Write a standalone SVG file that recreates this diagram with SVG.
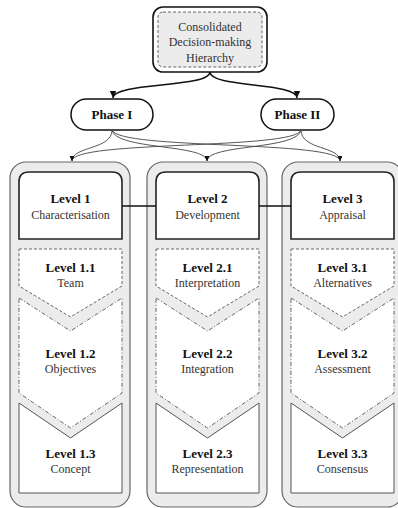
<svg xmlns="http://www.w3.org/2000/svg" width="398" height="508" viewBox="0 0 398 508">
<style>
  .col { fill: #ececec; stroke: #666; stroke-width: 1.2; }
  .lvl { fill: #fff; stroke: #222; stroke-width: 1.6; }
  .s1 { fill: #fff; stroke: #666; stroke-width: 1; stroke-dasharray: 3 2; }
  .s2 { fill: #fff; stroke: #666; stroke-width: 1; stroke-dasharray: 4 2 1 2; }
  .s3 { fill: #fff; stroke: #555; stroke-width: 1; }
  .b { font-family: "Liberation Serif", "Times New Roman", serif; font-weight: bold; font-size: 13px; fill: #111; text-anchor: middle; }
  .t { font-family: "Liberation Serif", "Times New Roman", serif; font-size: 12px; fill: #333; text-anchor: middle; }
  .thin { fill: none; stroke: #444; stroke-width: 0.9; }
  .thick { fill: none; stroke: #111; stroke-width: 1.5; }
  .link { fill: none; stroke: #111; stroke-width: 1.5; }
</style>
<defs>
  <marker id="ah" markerUnits="userSpaceOnUse" markerWidth="8" markerHeight="8" viewBox="0 0 8 8" refX="7" refY="4" orient="auto">
    <path d="M0,0.8 L7,4 L0,7.2 Z" fill="#111"/>
  </marker>
  <marker id="as" markerUnits="userSpaceOnUse" markerWidth="6" markerHeight="6" viewBox="0 0 6 6" refX="5.5" refY="3" orient="auto">
    <path d="M0,0.5 L5.5,3 L0,5.5 Z" fill="#111"/>
  </marker>
</defs>

<g id="top">
  <rect x="153" y="7" width="114" height="65" rx="10" fill="#fff" stroke="#111" stroke-width="1.6"/>
  <rect x="158" y="12" width="104" height="55" rx="5" fill="#ececec" stroke="#666" stroke-width="1" stroke-dasharray="3 2"/>
  <text class="t" x="210" y="31">Consolidated</text>
  <text class="t" x="210" y="46">Decision-making</text>
  <text class="t" x="210" y="62">Hierarchy</text>
</g>

<g id="phase1">
  <rect x="71" y="99" width="82" height="31" rx="15.5" fill="#fff" stroke="#111" stroke-width="1.5"/>
  <text class="b" x="112" y="119">Phase I</text>
</g>
<g id="phase2">
  <rect x="261" y="99" width="73" height="31" rx="15.5" fill="#fff" stroke="#111" stroke-width="1.5"/>
  <text class="b" x="297.5" y="119">Phase II</text>
</g>

<g id="column1">
  <rect class="col" x="10" y="162" width="120" height="345" rx="16"/>
  <g id="level1">
    <path class="lvl" d="M19,239 V182 Q19,172 29,172 H112 Q122,172 122,182 V239 Z"/>
    <text class="b" x="70.5" y="203">Level 1</text>
    <text class="t" x="70.5" y="219">Characterisation</text>
  </g>
  <g id="level1_1">
    <path class="s1" d="M19,249 H122 V286 L70.5,317 L19,286 Z"/>
    <text class="b" x="70.5" y="272">Level 1.1</text>
    <text class="t" x="70.5" y="287">Team</text>
  </g>
  <g id="level1_2">
    <path class="s2" d="M19,298 L70.5,331 L122,298 V393 L70.5,428 L19,393 Z"/>
    <text class="b" x="70.5" y="358">Level 1.2</text>
    <text class="t" x="70.5" y="373">Objectives</text>
  </g>
  <g id="level1_3">
    <path class="s3" d="M19,403 L70.5,438 L122,403 V493 H19 Z"/>
    <text class="b" x="70.5" y="458">Level 1.3</text>
    <text class="t" x="70.5" y="473">Concept</text>
  </g>
</g>

<g id="column2">
  <rect class="col" x="147" y="162" width="120" height="345" rx="16"/>
  <g id="level2">
    <path class="lvl" d="M156,239 V182 Q156,172 166,172 H249 Q259,172 259,182 V239 Z"/>
    <text class="b" x="207.5" y="203">Level 2</text>
    <text class="t" x="207.5" y="219">Development</text>
  </g>
  <g id="level2_1">
    <path class="s1" d="M156,249 H259 V286 L207.5,317 L156,286 Z"/>
    <text class="b" x="207.5" y="272">Level 2.1</text>
    <text class="t" x="207.5" y="287">Interpretation</text>
  </g>
  <g id="level2_2">
    <path class="s2" d="M156,298 L207.5,331 L259,298 V393 L207.5,428 L156,393 Z"/>
    <text class="b" x="207.5" y="358">Level 2.2</text>
    <text class="t" x="207.5" y="373">Integration</text>
  </g>
  <g id="level2_3">
    <path class="s3" d="M156,403 L207.5,438 L259,403 V493 H156 Z"/>
    <text class="b" x="207.5" y="458">Level 2.3</text>
    <text class="t" x="207.5" y="473">Representation</text>
  </g>
</g>

<g id="column3">
  <rect class="col" x="282" y="162" width="121" height="345" rx="16"/>
  <g id="level3">
    <path class="lvl" d="M291,239 V182 Q291,172 301,172 H384 Q394,172 394,182 V239 Z"/>
    <text class="b" x="342.5" y="203">Level 3</text>
    <text class="t" x="342.5" y="219">Appraisal</text>
  </g>
  <g id="level3_1">
    <path class="s1" d="M291,249 H394 V286 L342.5,317 L291,286 Z"/>
    <text class="b" x="342.5" y="272">Level 3.1</text>
    <text class="t" x="342.5" y="287">Alternatives</text>
  </g>
  <g id="level3_2">
    <path class="s2" d="M291,298 L342.5,331 L394,298 V393 L342.5,428 L291,393 Z"/>
    <text class="b" x="342.5" y="358">Level 3.2</text>
    <text class="t" x="342.5" y="373">Assessment</text>
  </g>
  <g id="level3_3">
    <path class="s3" d="M291,403 L342.5,438 L394,403 V493 H291 Z"/>
    <text class="b" x="342.5" y="458">Level 3.3</text>
    <text class="t" x="342.5" y="473">Consensus</text>
  </g>
</g>

<g id="connectors">
  <path class="thick" d="M210,72 C210,88 113,82 113,98" marker-end="url(#ah)"/>
  <path class="thick" d="M210,72 C210,88 297,82 297,98" marker-end="url(#ah)"/>
  <path class="thin" d="M112,130 C112,150 72,146 72,161" marker-end="url(#as)"/>
  <path class="thin" d="M112,130 C115,150 207,144 207,161" marker-end="url(#as)"/>
  <path class="thin" d="M112,130 C118,150 340,140 340,161" marker-end="url(#as)"/>
  <path class="thin" d="M301,130 C296,150 72,140 72,161" marker-end="url(#as)"/>
  <path class="thin" d="M301,130 C298,150 207,144 207,161" marker-end="url(#as)"/>
  <path class="thin" d="M301,130 C301,150 340,146 340,161" marker-end="url(#as)"/>
  <path class="link" d="M122,206 H156"/>
  <path class="link" d="M259,206 H291"/>
</g>
</svg>
